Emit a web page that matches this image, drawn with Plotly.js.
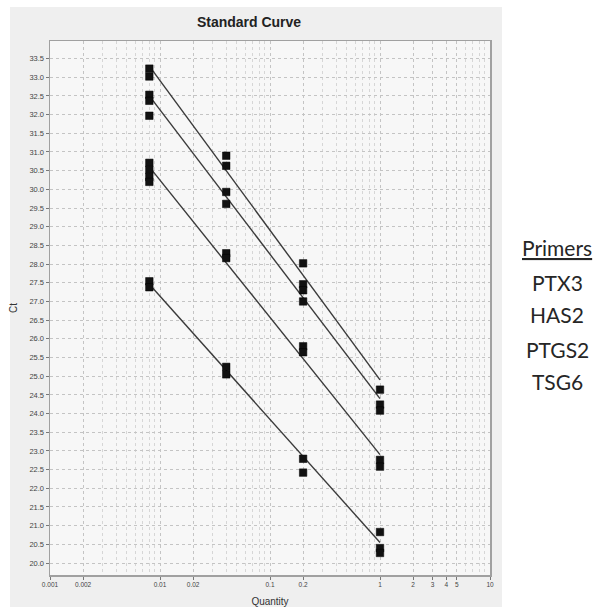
<!DOCTYPE html>
<html>
<head>
<meta charset="utf-8">
<script src="https://cdn.plot.ly/plotly-3.0.1.min.js"></script>
<style>html,body{margin:0;padding:0;background:#fff;}#chart{width:605px;height:607px;}</style>
</head>
<body>
<div id="chart"></div>
<script>
// ---- Data ----
const primers = ['PTX3', 'HAS2', 'PTGS2', 'TSG6'];

const ptx3Qty = [0.008, 0.008, 0.04, 0.04, 0.2, 0.2, 1, 1];
const ptx3Ct  = [33.23, 33.02, 30.90, 30.63, 28.02, 27.46, 24.64, 24.24];

const has2Qty = [0.008, 0.008, 0.008, 0.04, 0.04, 0.2, 0.2, 1];
const has2Ct  = [32.53, 32.37, 31.97, 29.93, 29.61, 27.30, 27.00, 24.08];

const ptgs2Qty = [0.008, 0.008, 0.008, 0.008, 0.04, 0.04, 0.2, 0.2, 1, 1];
const ptgs2Ct  = [30.71, 30.52, 30.33, 30.20, 28.29, 28.16, 25.80, 25.64, 22.76, 22.58];

const tsg6Qty = [0.008, 0.008, 0.04, 0.04, 0.2, 0.2, 1, 1, 1];
const tsg6Ct  = [27.54, 27.38, 25.25, 25.05, 22.79, 22.42, 20.83, 20.40, 20.27];

// standard-curve fit lines (end points)
const fitQty   = [0.008, 1];
const ptx3Fit  = [33.30, 24.90];
const has2Fit  = [32.50, 24.40];
const ptgs2Fit = [30.60, 22.90];
const tsg6Fit  = [27.46, 20.55];

const xTickVals = [0.001, 0.002, 0.01, 0.02, 0.1, 0.2, 1, 2, 3, 4, 5, 10];
const xTickText = ['0.001', '0.002', '0.01', '0.02', '0.1', '0.2', '1', '2', '3', '4', '5', '10'];
const xMinorVals = [0.003, 0.004, 0.005, 0.006, 0.007, 0.008, 0.009,
                    0.03, 0.04, 0.05, 0.06, 0.07, 0.08, 0.09,
                    0.3, 0.4, 0.5, 0.6, 0.7, 0.8, 0.9,
                    6, 7, 8, 9];

// ---- Traces ----
const pointSets = [[ptx3Qty, ptx3Ct], [has2Qty, has2Ct], [ptgs2Qty, ptgs2Ct], [tsg6Qty, tsg6Ct]];
const fitSets = [ptx3Fit, has2Fit, ptgs2Fit, tsg6Fit];

const traces = [];
fitSets.forEach((f, i) => {
  traces.push({
    x: fitQty, y: f, type: 'scatter', mode: 'lines', name: primers[i] + ' fit',
    line: {color: '#3a3a3a', width: 1.4}, hoverinfo: 'skip', showlegend: false
  });
});
pointSets.forEach((p, i) => {
  traces.push({
    x: p[0], y: p[1], type: 'scatter', mode: 'markers', name: primers[i],
    marker: {symbol: 'square', size: 7.5, color: '#111', line: {color: '#000', width: 0.5}},
    showlegend: false
  });
});

// ---- Layout ----
const L = 50, R = 490, T = 41, B = 575, W = 605, H = 607;
const pw = R - L, ph = B - T;
const px = v => (v - L) / pw;
const py = v => (B - v) / ph;

const rightLabels = ['<u>Primers</u>'].concat(primers);
const rightY = [248, 282, 315, 349, 381];

const annotations = rightLabels.map((t, i) => ({
  text: t, xref: 'paper', yref: 'paper', x: px(557), y: py(rightY[i]),
  xanchor: 'center', yanchor: 'middle', showarrow: false,
  font: {family: 'Lato, "Noto Sans", sans-serif', size: 21, color: '#262626'}
}));

const layout = {
  width: W, height: H,
  margin: {l: L, r: W - R, t: T, b: H - B, pad: 0},
  paper_bgcolor: '#ffffff',
  plot_bgcolor: 'rgba(0,0,0,0)',
  font: {family: '"Liberation Sans", Arial, sans-serif', color: '#333'},
  title: {
    text: '<b>Standard Curve</b>',
    font: {family: '"Liberation Sans", Arial, sans-serif', size: 14, color: '#222'},
    xref: 'container', yref: 'container', x: 249 / W, y: 1 - 22 / H,
    xanchor: 'center', yanchor: 'middle'
  },
  xaxis: {
    type: 'log', range: [-3, 1], autorange: false,
    tickmode: 'array', tickvals: xTickVals, ticktext: xTickText,
    tickfont: {size: 6.5, color: '#444'},
    ticks: 'outside', ticklen: 3, tickcolor: '#777',
    showgrid: true, gridcolor: '#c4c4c4', gridwidth: 1, griddash: 'dot',
    minor: {tickmode: 'array', tickvals: xMinorVals, showgrid: true,
            gridcolor: '#d6d6d6', gridwidth: 1, griddash: 'dot', ticks: ''},
    showline: true, linecolor: '#a0a0a0', linewidth: 1.5, mirror: true,
    zeroline: false,
    title: {text: 'Quantity', font: {size: 10, color: '#333'}, standoff: 12}
  },
  yaxis: {
    range: [19.68, 33.97], autorange: false,
    tickmode: 'linear', tick0: 20, dtick: 0.5, tickformat: '.1f',
    tickfont: {size: 7.5, color: '#444'},
    ticks: 'outside', ticklen: 3, tickcolor: '#777',
    showgrid: true, gridcolor: '#c4c4c4', gridwidth: 1, griddash: 'dot',
    showline: true, linecolor: '#a0a0a0', linewidth: 1.5, mirror: true,
    zeroline: false,
    title: {text: 'Ct', font: {size: 10, color: '#333'}, standoff: 10}
  },
  shapes: [
    {type: 'rect', xref: 'paper', yref: 'paper', layer: 'below',
     x0: px(10), x1: px(502), y0: py(607), y1: py(7),
     fillcolor: '#efefef', line: {width: 0}},
    {type: 'rect', xref: 'paper', yref: 'paper', layer: 'below',
     x0: 0, x1: 1, y0: 0, y1: 1,
     fillcolor: '#f7f7f7', line: {width: 0}}
  ],
  annotations: annotations,
  showlegend: false
};

Plotly.newPlot('chart', traces, layout, {displayModeBar: false, staticPlot: true});
</script>
</body>
</html>
